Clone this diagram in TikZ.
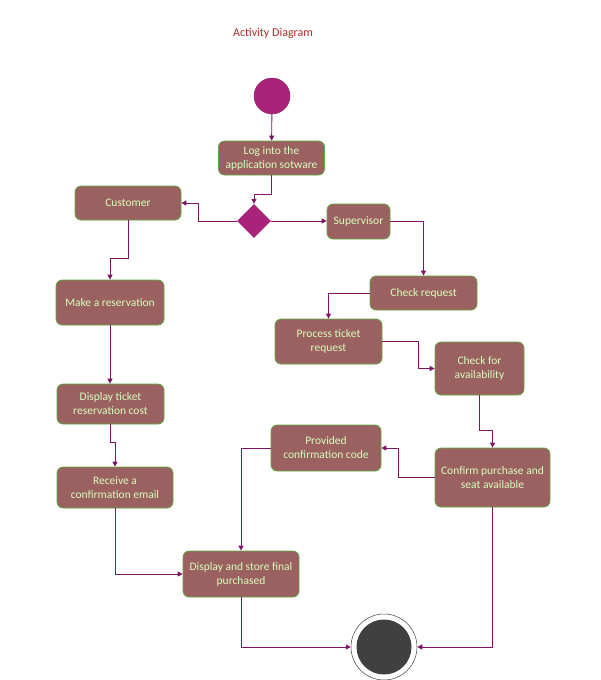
\documentclass[tikz,border=0pt]{standalone}
\usepackage{fontspec}
\setmainfont{Carlito}
\usetikzlibrary{arrows.meta,shapes.geometric}
\definecolor{boxfill}{RGB}{155,96,96}
\definecolor{boxborder}{RGB}{90,170,60}
\definecolor{boxtext}{RGB}{215,255,190}
\definecolor{linecol}{RGB}{125,20,100}
\definecolor{startcol}{RGB}{170,35,122}
\definecolor{titlecol}{RGB}{175,45,40}
\definecolor{endcol}{RGB}{64,64,64}
\tikzset{
  actbox/.style={rectangle, rounded corners=6pt, fill=boxfill, draw=boxborder, line width=0.7pt,
    text=boxtext, font=\fontsize{11.5}{14}\selectfont, align=center, inner sep=0pt},
  conn/.style={draw=linecol, line width=0.9pt, -{Triangle[length=5pt,width=5pt]}}
}
\begin{document}
\begin{tikzpicture}[x=1pt,y=-1pt]
\useasboundingbox (0,0) rectangle (600,680);
\node[text=titlecol, font=\fontsize{12}{14}\selectfont] (title) at (273,33) {Activity Diagram};
\node[circle, fill=startcol, draw=startcol!80!black, line width=0.4pt, minimum size=36pt, inner sep=0pt] (start) at (272,96) {};
\node[actbox, minimum width=106pt, minimum height=34pt] (log) at (271.5,158) {Log into the\\application sotware};
\node[diamond, fill=startcol, minimum width=34pt, minimum height=34pt, inner sep=0pt] (dia) at (254,221) {};
\node[actbox, minimum width=106pt, minimum height=34pt] (cust) at (128,203) {Customer};
\node[actbox, minimum width=63pt, minimum height=35pt] (sup) at (358.5,221.5) {Supervisor};
\node[actbox, minimum width=108pt, minimum height=45pt] (make) at (110,302.5) {Make a reservation};
\node[actbox, minimum width=107pt, minimum height=34pt] (chk) at (423.5,293) {Check request};
\node[actbox, minimum width=107pt, minimum height=45pt] (proc) at (328.5,341.5) {Process ticket\\request};
\node[actbox, minimum width=89pt, minimum height=53pt] (avail) at (479.5,368.5) {Check for\\availability};
\node[actbox, minimum width=107pt, minimum height=40pt] (disp) at (110.5,404) {Display ticket\\reservation cost};
\node[actbox, minimum width=110pt, minimum height=46pt] (prov) at (326,448) {Provided\\confirmation code};
\node[actbox, minimum width=115pt, minimum height=59pt] (conf) at (492.5,477.5) {Confirm purchase and\\seat available};
\node[actbox, minimum width=116pt, minimum height=41pt] (recv) at (115,487.5) {Receive a\\confirmation email};
\node[actbox, minimum width=116pt, minimum height=46pt] (final) at (241,574) {Display and store final\\purchased};
\node[circle, draw=black!75, line width=0.5pt, minimum size=66pt, inner sep=0pt] (end) at (384,647) {};
\fill[endcol] (end.center) circle (27.5pt);
% connectors
\draw[conn] (start) -- (log);
\draw[conn] (log.south) -- ++(0,19) -| (dia.north);
\draw[conn] (dia.west) -- ++(-38,0) |- (cust.east);
\draw[conn] (dia.east) -- (sup.west |- dia.east);
\draw[conn] (sup.east) -| (chk.north);
\draw[conn] (cust.south) -- ++(0,38) -| (make.north);
\draw[conn] (chk.west) -| (proc.north);
\draw[conn] (proc.east) -- ++(36,0) |- (avail.west);
\draw[conn] (avail.south) -- ++(0,35) -| (conf.north);
\draw[conn] (make.south) -- (make.south |- disp.north);
\draw[conn] (disp.south) -- ++(0,18) -| (recv.north);
\draw[conn] (conf.west) -- ++(-36,0) |- (prov.east);
\draw[conn] (prov.west) -| (final.north);
\draw[conn] (recv.south) |- (final.west);
\draw[conn] (final.south) |- (end.west);
\draw[conn] (conf.south) |- (end.east);
\end{tikzpicture}
\end{document}
